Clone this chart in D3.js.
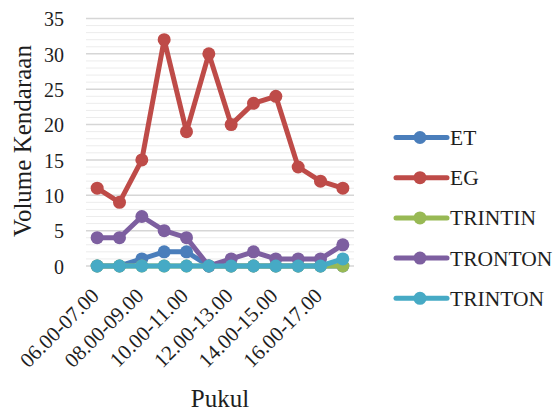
<!DOCTYPE html>
<html><head><meta charset="utf-8">
<script src="https://cdn.jsdelivr.net/npm/d3@7"></script>
<style>body{margin:0;background:#fff}svg{display:block}</style>
</head><body><svg id="c" width="558" height="412"></svg>
<script>
const categories = ["06.00-07.00","07.00-08.00","08.00-09.00","09.00-10.00","10.00-11.00","11.00-12.00","12.00-13.00","13.00-14.00","14.00-15.00","15.00-16.00","16.00-17.00","17.00-18.00"];
const seriesNames = ["ET","EG","TRINTIN","TRONTON","TRINTON"];
const ET      = [0,0,1,2,2,0,0,0,0,0,0,0];
const EG      = [11,9,15,32,19,30,20,23,24,14,12,11];
const TRINTIN = [0,0,0,0,0,0,0,0,0,0,0,0];
const TRONTON = [4,4,7,5,4,0,1,2,1,1,1,3];
const TRINTON = [0,0,0,0,0,0,0,0,0,0,0,1];
const colors = ["#4A7EBB","#BE4B48","#98B954","#7D5FA0","#46AAC5"];
const yTicks = [0,5,10,15,20,25,30,35];
const values = [ET,EG,TRINTIN,TRONTON,TRINTON];

const svg = d3.select("#c");
const x = d3.scaleBand().domain(categories).range([86,354]);
const y = d3.scaleLinear().domain([0,35]).range([266,18.5]);
const cx = d => x(d) + x.bandwidth()/2;

svg.append("g").selectAll("line").data(d3.range(0,36).filter(v=>v%5!==0)).join("line")
  .attr("x1",86).attr("x2",354).attr("y1",d=>y(d)).attr("y2",d=>y(d))
  .attr("stroke","#ececec").attr("stroke-width",1);
svg.append("g").selectAll("line").data(yTicks).join("line")
  .attr("x1",86).attr("x2",354).attr("y1",d=>y(d)).attr("y2",d=>y(d))
  .attr("stroke","#d6d6d6").attr("stroke-width",1.5);

const ya = svg.append("g").attr("transform","translate(64,0)")
  .call(d3.axisLeft(y).tickValues(yTicks).tickSize(0).tickPadding(0));
ya.select(".domain").remove();
ya.selectAll("text").style("font-size","20px").attr("dy","0.36em");

svg.append("text").attr("transform","translate(31,141) rotate(-90)")
  .attr("text-anchor","middle").style("font-size","25px")
  .text("Volume Kendaraan");

const xa = svg.append("g").attr("transform","translate(0,266)")
  .call(d3.axisBottom(x).tickValues(categories.filter((d,i)=>i%2===0)).tickSize(0).tickPadding(0));
xa.select(".domain").remove();
xa.selectAll("text").style("font-size","21px")
  .attr("text-anchor","end").attr("dy",null).attr("y",0)
  .attr("transform","translate(3,31) rotate(-45)");

svg.append("text").attr("x",220).attr("y",407).attr("text-anchor","middle")
  .style("font-size","25px").text("Pukul");

const line = d3.line().x((d,i)=>cx(categories[i])).y(d=>y(d));
values.forEach((vals,si)=>{
  const g = svg.append("g");
  g.append("path").datum(vals).attr("d",line).attr("fill","none")
    .attr("stroke",colors[si]).attr("stroke-width",5).attr("stroke-linejoin","round");
  g.selectAll("circle").data(vals).join("circle")
    .attr("cx",(d,i)=>cx(categories[i])).attr("cy",d=>y(d)).attr("r",6.5).attr("fill",colors[si]);
});

const lg = svg.append("g");
seriesNames.forEach((n,i)=>{
  const ly = 137.5 + i*40.2;
  lg.append("line").attr("x1",396).attr("x2",447).attr("y1",ly).attr("y2",ly)
    .attr("stroke",colors[i]).attr("stroke-width",5).attr("stroke-linecap","round");
  lg.append("circle").attr("cx",420).attr("cy",ly).attr("r",6.5).attr("fill",colors[i]);
  lg.append("text").attr("x",450).attr("y",ly).attr("dy","0.35em")
    .style("font-size","21.5px").text(n);
});

svg.selectAll("text").style("font-family","'Liberation Serif', serif").style("fill","#1e1e1e");
svg.selectAll("g").attr("font-family",null);
</script></body></html>
